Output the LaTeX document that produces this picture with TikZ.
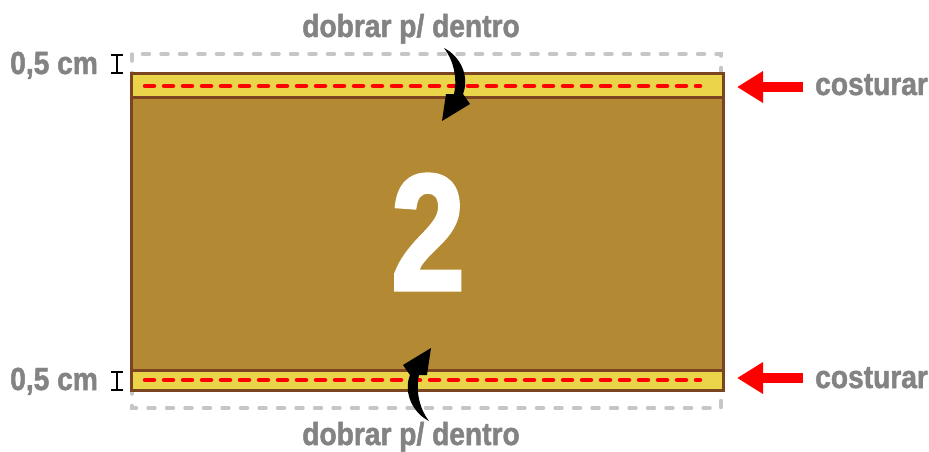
\documentclass[tikz,border=0pt]{standalone}
\usepackage{fontspec}
\newfontfamily\labelfont[FakeStretch=0.88, BoldFeatures={FakeBold=1.5}]{Liberation Sans}
\newfontfamily\numfont[FakeStretch=0.8, BoldFeatures={FakeBold=2}]{Liberation Sans}
\usetikzlibrary{arrows.meta}
\definecolor{labelgray}{HTML}{838383}
\definecolor{fabric}{HTML}{B38A33}
\definecolor{hem}{HTML}{E9D44A}
\definecolor{edge}{HTML}{7A4520}
\definecolor{margin}{HTML}{C6C6C6}
\tikzset{
  label/.style={inner sep=0pt, text=labelgray, font=\labelfont\bfseries\fontsize{32}{36}\selectfont},
  seam/.style={red, line width=4.5pt, line cap=round, dash pattern=on 9pt off 10pt},
  seamarrow/.style={red, line width=10pt, -{Triangle[length=26pt,width=30pt]}},
  tick/.style={black, line width=2.5pt},
  foldarrow/.pic={
    \fill[black] (0,0) .. controls (16,8) and (26,28) .. (19,46) -- (26,56) -- (-2,73)
      -- (2,46) -- (10,46) .. controls (14,28) and (8,10) .. (0,0) -- cycle;
  }
}
\begin{document}
\begin{tikzpicture}[x=1pt, y=-1pt]
  \useasboundingbox (0,0) rectangle (929,451);

  \draw[margin, line width=3.5pt, line cap=round, dash pattern=on 7pt off 11.5pt] (132,54) rectangle (721,408);
  \fill[fabric] (131,73) rectangle (723,390);
  \fill[hem] (131,73) rectangle (723,97);
  \fill[hem] (131,370) rectangle (723,390);
  \draw[edge, line width=3pt] (131,97) -- (723,97);
  \draw[edge, line width=3pt] (131,370) -- (723,370);
  \draw[edge, line width=3pt] (131,73) rectangle (723,390);

  \draw[seam] (145,86) -- (700,86);
  \draw[seam] (145,380) -- (700,380);

  \node[inner sep=0pt, text=white, font=\numfont\bfseries\fontsize{166}{170}\selectfont] (num) at (428,232) {2};

  \node[label, anchor=base] (foldtop) at (411,37) {dobrar p/ dentro};
  \node[label, anchor=base] (foldbot) at (411,445) {dobrar p/ dentro};
  \pic at (444,48) {foldarrow};
  \pic[rotate=180] at (429,421) {foldarrow};

  \node[label, anchor=base west] (cmtop) at (10,74) {0,5 cm};
  \node[label, anchor=base west] (cmbot) at (10,390) {0,5 cm};
  \draw[tick] (117,55) -- (117,73) (111,55) -- (123,55) (111,73) -- (123,73);
  \draw[tick] (117,372) -- (117,390) (111,372) -- (123,372) (111,390) -- (123,390);

  \node[label, anchor=base west] (sewtop) at (815,95) {costurar};
  \node[label, anchor=base west] (sewbot) at (815,388) {costurar};
  \coordinate (seamtop) at (737,87);
  \coordinate (seambot) at (737,378);
  \coordinate (tailtop) at (803,87);
  \coordinate (tailbot) at (803,378);
  \draw[seamarrow] (tailtop) -- (seamtop);
  \draw[seamarrow] (tailbot) -- (seambot);
\end{tikzpicture}
\end{document}
